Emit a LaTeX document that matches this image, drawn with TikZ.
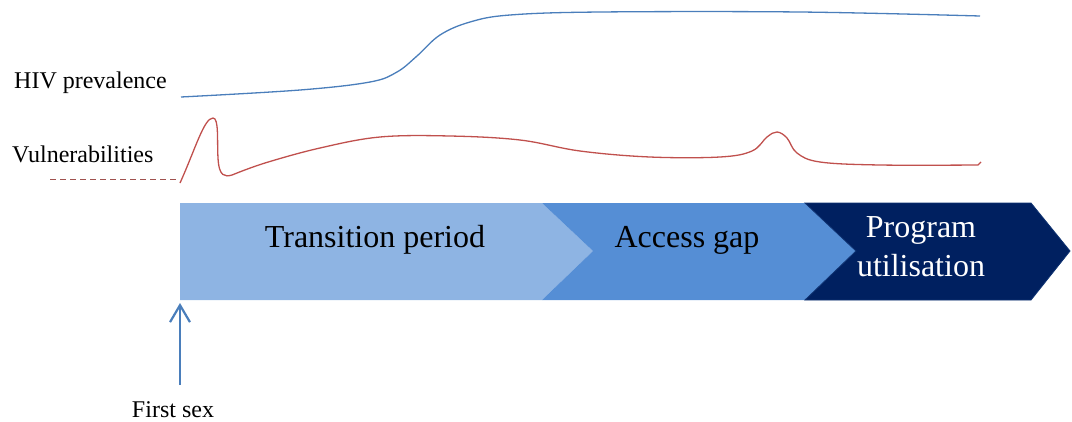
\documentclass[tikz,border=0pt]{standalone}
\usepackage{fontspec}
\setmainfont{Liberation Serif}
\usetikzlibrary{arrows.meta}
\definecolor{lightband}{HTML}{8EB4E3}
\definecolor{midband}{HTML}{558ED5}
\definecolor{darkband}{HTML}{002060}
\definecolor{hivblue}{HTML}{4A7EBB}
\definecolor{vulnred}{HTML}{C0504D}
\definecolor{basered}{HTML}{A0524F}
\begin{document}
\begin{tikzpicture}[x=1pt,y=-1pt,
  band label/.style={font=\fontsize{32}{39}\selectfont,align=center,inner sep=0pt},
  side label/.style={font=\fontsize{24}{28}\selectfont,inner sep=0pt},
  curve/.style={line width=1.3pt,line join=round}]

  \useasboundingbox (0,0) rectangle (1072,421);

  % the three phases
  \fill[lightband] (180,203) -- (542,203) -- (593,251) -- (542,300) -- (180,300) -- cycle;
  \fill[midband] (542,203) -- (805,203) -- (856,251) -- (805,300) -- (542,300) -- (593,251) -- cycle;
  \filldraw[fill=darkband,draw=darkband!80!hivblue,line width=0.8pt]
    (805,203) -- (1031,203) -- (1070,251) -- (1031,300) -- (805,300) -- (856,251) -- cycle;

  \node[band label,anchor=base] (trans) at (375,247) {Transition period};
  \node[band label,anchor=base] (gap) at (687,247) {Access gap};
  \node[band label,text=white] (prog) at (921,247) {Program\\utilisation};

  % labels on the left
  \node[side label,anchor=base west] (hiv) at (14,88) {HIV prevalence};
  \node[side label,anchor=base west] (vuln) at (12,162) {Vulnerabilities};
  \node[side label,anchor=base] (sex) at (173,417) {First sex};

  % curves
  \draw[curve,hivblue] plot[smooth,tension=0.6] coordinates {(181,97) (300,90) (370,82)
    (397,72) (417,56) (440,35) (470,22) (510,15) (600,12) (800,12) (980,16)};

  \draw[basered,line width=1pt,dash pattern=on 6pt off 4pt] (50,179) -- (178,179);
  \draw[curve,vulnred] (180,183) .. controls (195,150) and (204,118) .. (213,118)
    .. controls (219,118) and (217,140) .. (218,158)
    .. controls (219,177) and (225,177) .. (232,175)
    -- plot[smooth,tension=0.6] coordinates {(232,175) (265,163) (320,148) (380,137)
    (450,136) (520,140) (580,151) (650,157) (720,157) (752,151) (767,137) (777,132)
    (787,138) (797,153) (820,162) (880,165) (978,165)} -- (981,162);

  % first sex marker
  \coordinate (sexpt) at (180,385);
  \coordinate (bandpt) at (180,303);
  \draw[hivblue,line width=2.2pt,-{Straight Barb[length=17pt,width=20pt]}] (sexpt) -- (bandpt);
\end{tikzpicture}
\end{document}
